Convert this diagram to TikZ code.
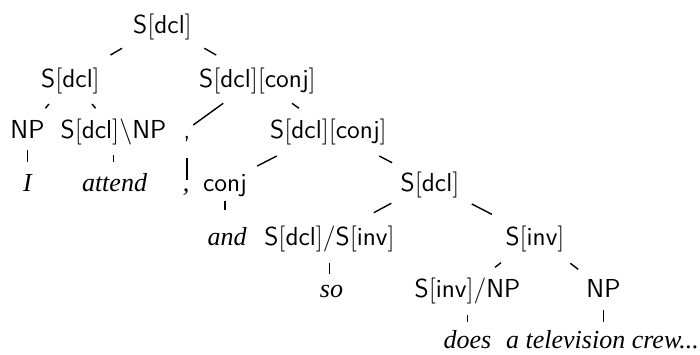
\RequirePackage{fix-cm}
\documentclass[tikz,border=0pt]{standalone}
\usepackage{fontspec}
\usetikzlibrary{calc}
\newfontfamily\wordfont{Liberation Serif}
% categories in sans math, words in italic serif
\newcommand{\cat}[1]{$\mathsf{#1}$}
\newcommand{\word}[1]{{\wordfont\itshape #1}}

\begin{document}
\begin{tikzpicture}[x=0.5pt, y=-0.5pt, font=\fontsize{13}{15}\selectfont,
		every node/.style={inner sep=0pt, text height=9.5pt, text depth=1pt},
		branch/.style={line width=0.7pt}]
		\useasboundingbox (0,0) rectangle (700,354);
		% categories, level by level
		\node (root) at (162.5,24.5) {\cat{S[dcl]}};
		\node (sa) at (70.5,78.5) {\cat{S[dcl]}};
		\node (sb) at (257.5,78.5) {\cat{S[dcl][conj]}};
		\node (np1) at (27.5,129.5) {\cat{NP}};
		\node (sdnp) at (113.5,129.5) {\cat{S[dcl]\backslash NP}};
		\node (cm) at (187,129.5) {\sffamily ,};
		\node (sc) at (328.5,129.5) {\cat{S[dcl][conj]}};
		\node (conj) at (225,182.5) {\cat{conj}};
		\node (sd) at (430,182.5) {\cat{S[dcl]}};
		\node (sds) at (329.5,236.5) {\cat{S[dcl]/S[inv]}};
		\node (sinv) at (535,236.5) {\cat{S[inv]}};
		\node (sinvnp) at (467.5,288.5) {\cat{S[inv]/NP}};
		\node (np2) at (603.5,288.5) {\cat{NP}};
		% words
		\node (wI) at (27.5,182.5) {\word{I}};
		\node (wattend) at (114.5,182.5) {\word{attend}};
		\node (wcomma) at (186,182.5) {\word{,}};
		\node (wand) at (227,236.5) {\word{and}};
		\node (wso) at (331.5,288.5) {\word{so}};
		\node (wdoes) at (467.5,339.5) {\word{does}};
		\node (wcrew) at (602.5,339.5) {\word{a television crew...}};
		% branches: only the middle piece of each line is drawn
		\foreach \p/\c/\a/\b in {root/sa/.44/.565, root/sb/.44/.565,
				sa/np1/.5/.584, sa/sdnp/.5/.584, sb/cm/.486/.912, sb/sc/.486/.584,
				sc/conj/.5/.689, sc/sd/.5/.626, sd/sds/.385/.559, sd/sinv/.398/.589,
				sinv/sinvnp/.504/.592, sinv/np2/.515/.631}{
			\draw[branch] ($(\p)!\a!(\c)$) -- ($(\p)!\b!(\c)$);
		}
		% leaves hang straight down
		\foreach \p/\c/\a/\b in {np1/wI/.387/.608, sdnp/wattend/.481/.608,
				cm/wcomma/.543/.953, conj/wand/.337/.509, sds/wso/.504/.727,
				sinvnp/wdoes/.52/.65, np2/wcrew/.42/.65}{
			\draw[branch] ($(\p)!\a!(\p |- \c)$) -- ($(\p)!\b!(\p |- \c)$);
		}
	\end{tikzpicture}
\end{document}
